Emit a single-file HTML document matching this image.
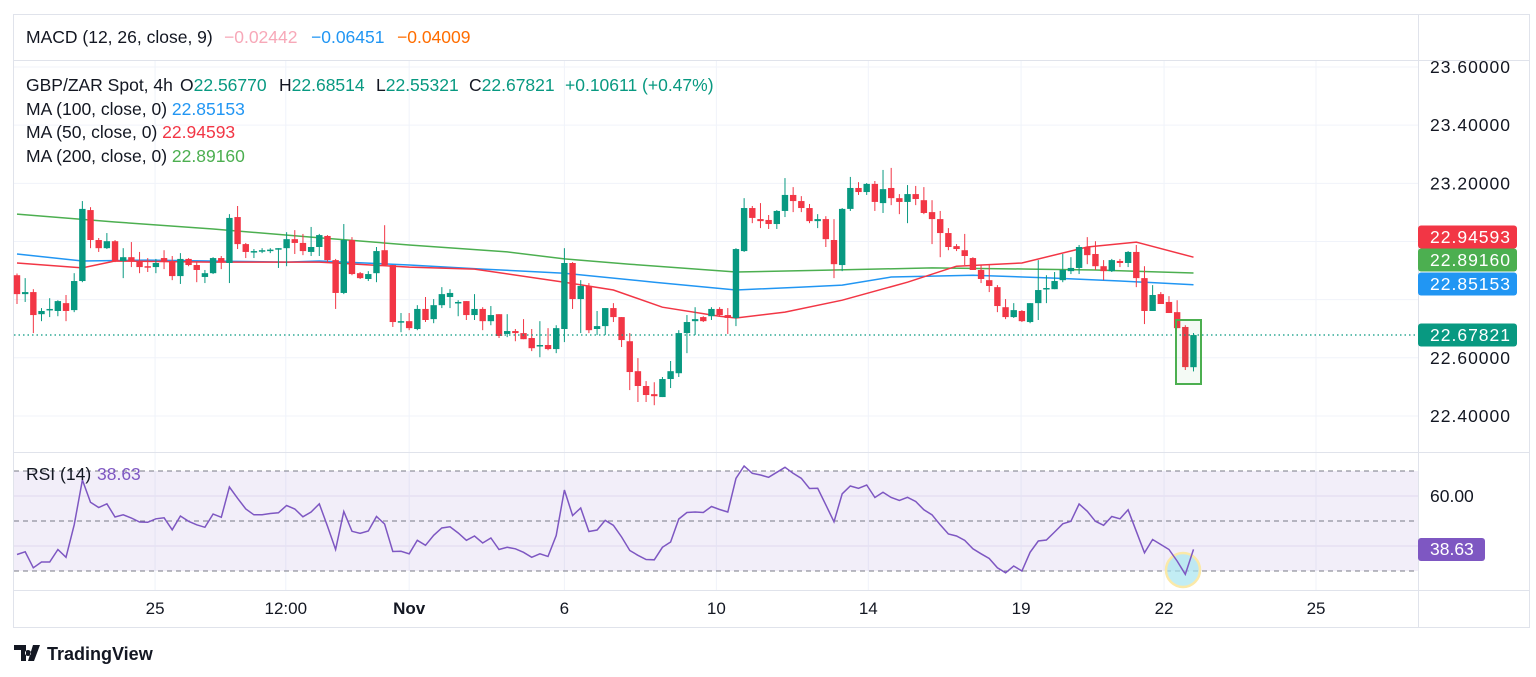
<!DOCTYPE html>
<html><head><meta charset="utf-8"><style>
html,body{margin:0;padding:0;background:#fff;width:1536px;height:677px;overflow:hidden;font-family:"Liberation Sans",sans-serif;}
svg{display:block}
text{font-family:"Liberation Sans",sans-serif;}
</style></head><body>
<svg id="chart" width="1536" height="677" viewBox="0 0 1536 677" xmlns="http://www.w3.org/2000/svg">
  <g id="grid"></g>
  <g id="frame" stroke="#e0e3eb" stroke-width="1" fill="none">
    <rect x="13.5" y="14.5" width="1516" height="613"/>
    <line x1="13" y1="60.5" x2="1530" y2="60.5"/>
    <line x1="13" y1="452.5" x2="1530" y2="452.5"/>
    <line x1="13" y1="590.5" x2="1530" y2="590.5"/>
    <line x1="1418.5" y1="14" x2="1418.5" y2="627"/>
  </g>
  <rect x="14" y="471" width="1404" height="100" fill="#7e57c2" fill-opacity="0.1"/>
  <g id="rsiLines"></g>
  <g id="mas"></g>
  <g id="candles"></g>
  <line x1="14" y1="335" x2="1418" y2="335" stroke="#089981" stroke-width="1.3" stroke-dasharray="1.5 3"/>
  <rect x="1176" y="320" width="25" height="64" fill="#4caf50" fill-opacity="0.06" stroke="#4caf50" stroke-width="2"/>
  <circle cx="1183" cy="570" r="17" fill="#a8e6f0" fill-opacity="0.7" stroke="#fbe9a8" stroke-width="2.5"/>
  <g id="rsi"></g>
  <g id="axis"></g>
  <g id="taxis"></g>

  <g font-size="17.5">
    <text x="26" y="43" fill="#131722">MACD (12, 26, close, 9)</text>
    <text x="224" y="43" fill="#f7a8b8">−0.02442</text>
    <text x="311" y="43" fill="#2196f3">−0.06451</text>
    <text x="397" y="43" fill="#ff6d00">−0.04009</text>
  </g>
  <g font-size="17.5">
    <text x="26" y="91" fill="#131722">GBP/ZAR Spot, 4h</text>
    <text x="180" y="91" fill="#131722">O<tspan fill="#089981">22.56770</tspan></text>
    <text x="279" y="91" fill="#131722">H<tspan fill="#089981">22.68514</tspan></text>
    <text x="376" y="91" fill="#131722">L<tspan fill="#089981">22.55321</tspan></text>
    <text x="469" y="91" fill="#131722">C<tspan fill="#089981">22.67821</tspan></text>
    <text x="565" y="91" fill="#089981">+0.10611 (+0.47%)</text>
    <text x="26" y="115" fill="#131722">MA (100, close, 0) <tspan fill="#2196f3">22.85153</tspan></text>
    <text x="26" y="138" fill="#131722">MA (50, close, 0) <tspan fill="#f23645">22.94593</tspan></text>
    <text x="26" y="162" fill="#131722">MA (200, close, 0) <tspan fill="#4caf50">22.89160</tspan></text>
  </g>
  <g font-size="17.5">
    <text x="26" y="480" fill="#131722">RSI (14)</text>
    <text x="97" y="480" fill="#7e57c2">38.63</text>
  </g>
  <g>
    <path d="M14 645h12v16h-5v-11h-7z M28 650a3 3 0 1 0 0.01 0z M33 645h7l-6 16h-6z" fill="#131722"/>
    <text x="47" y="660" font-size="18" font-weight="bold" fill="#131722">TradingView</text>
  </g>
</svg>
<script>
const opens=[22.884,22.819,22.826,22.750,22.764,22.761,22.788,22.764,22.864,23.108,23.005,22.977,23.001,22.933,22.946,22.933,22.915,22.912,22.943,22.933,22.881,22.940,22.919,22.878,22.891,22.943,22.926,23.084,22.991,22.964,22.967,22.970,22.974,22.977,23.008,22.995,22.964,22.981,23.019,22.936,22.823,23.005,22.891,22.871,22.891,22.970,22.919,22.723,22.726,22.699,22.768,22.733,22.781,22.809,22.788,22.795,22.747,22.768,22.726,22.750,22.682,22.692,22.685,22.668,22.640,22.644,22.630,22.699,22.926,22.802,22.847,22.699,22.709,22.771,22.740,22.657,22.554,22.503,22.475,22.465,22.527,22.547,22.685,22.726,22.740,22.743,22.768,22.747,22.737,22.967,23.115,23.077,23.074,23.060,23.105,23.160,23.139,23.115,23.070,23.077,23.005,22.919,23.112,23.184,23.170,23.198,23.132,23.184,23.149,23.136,23.163,23.142,23.101,23.077,23.029,22.984,22.970,22.943,22.902,22.867,22.843,22.774,22.740,22.761,22.723,22.788,22.836,22.836,22.867,22.898,22.909,22.981,22.957,22.915,22.898,22.933,22.926,22.964,22.874,22.761,22.819,22.792,22.757,22.706,22.5677];
const highs=[22.89,22.874,22.836,22.771,22.805,22.798,22.816,22.891,23.139,23.118,23.012,23.029,23.005,22.977,22.998,22.964,22.943,22.940,22.970,22.950,22.960,22.943,22.929,22.902,22.946,22.950,23.094,23.122,22.995,22.974,22.977,22.977,22.977,23.032,23.039,23.026,23.050,23.026,23.022,22.940,23.060,23.015,22.895,22.898,22.981,23.056,22.919,22.754,22.754,22.781,22.809,22.802,22.843,22.836,22.798,22.795,22.819,22.774,22.778,22.750,22.750,22.699,22.733,22.699,22.726,22.702,22.712,22.977,22.929,22.867,22.857,22.761,22.771,22.788,22.740,22.685,22.599,22.520,22.516,22.534,22.589,22.695,22.747,22.774,22.743,22.774,22.774,22.771,22.977,23.149,23.122,23.132,23.091,23.108,23.218,23.187,23.156,23.129,23.094,23.087,23.077,23.115,23.222,23.204,23.201,23.208,23.246,23.253,23.163,23.194,23.191,23.187,23.142,23.105,23.046,22.991,23.026,22.946,22.919,22.919,22.850,22.802,22.788,22.764,22.788,22.936,22.884,22.895,22.957,22.946,22.988,23.015,23.001,22.936,22.940,22.940,22.967,22.988,22.915,22.850,22.826,22.812,22.798,22.712,22.68514];
const lows=[22.785,22.792,22.685,22.726,22.740,22.743,22.726,22.757,22.860,22.977,22.964,22.974,22.929,22.874,22.912,22.891,22.895,22.891,22.905,22.867,22.854,22.915,22.860,22.857,22.888,22.905,22.857,22.974,22.943,22.943,22.960,22.960,22.909,22.915,22.957,22.953,22.950,22.950,22.929,22.768,22.819,22.884,22.871,22.864,22.860,22.919,22.706,22.688,22.695,22.695,22.723,22.719,22.771,22.771,22.743,22.730,22.730,22.695,22.712,22.668,22.671,22.657,22.664,22.623,22.602,22.626,22.616,22.654,22.768,22.685,22.685,22.678,22.678,22.723,22.637,22.489,22.448,22.448,22.437,22.465,22.496,22.534,22.616,22.678,22.723,22.730,22.743,22.682,22.709,22.964,23.063,23.046,23.043,23.043,23.084,23.101,23.101,23.063,23.046,22.981,22.874,22.898,23.105,23.160,23.160,23.105,23.098,23.125,23.094,23.063,23.125,23.094,22.991,22.946,22.970,22.967,22.919,22.902,22.857,22.826,22.757,22.733,22.737,22.723,22.719,22.730,22.788,22.836,22.860,22.888,22.888,22.922,22.902,22.867,22.895,22.912,22.912,22.843,22.716,22.761,22.785,22.754,22.702,22.558,22.55321];
const closes=[22.819,22.826,22.747,22.761,22.768,22.795,22.761,22.864,23.112,23.005,22.977,23.001,22.933,22.946,22.933,22.912,22.912,22.926,22.933,22.881,22.940,22.919,22.902,22.891,22.943,22.929,23.081,22.991,22.964,22.967,22.970,22.972,22.977,23.008,22.995,22.967,22.981,23.022,22.936,22.823,23.005,22.888,22.874,22.888,22.967,22.919,22.723,22.726,22.702,22.768,22.730,22.781,22.819,22.823,22.792,22.747,22.768,22.726,22.747,22.675,22.692,22.685,22.664,22.633,22.644,22.630,22.702,22.926,22.802,22.847,22.695,22.709,22.771,22.740,22.661,22.551,22.503,22.472,22.468,22.527,22.554,22.685,22.723,22.733,22.726,22.768,22.747,22.737,22.974,23.115,23.081,23.070,23.060,23.105,23.160,23.139,23.115,23.070,23.077,23.008,22.922,23.112,23.184,23.170,23.198,23.136,23.180,23.149,23.136,23.163,23.146,23.098,23.077,23.029,22.981,22.974,22.950,22.902,22.871,22.847,22.778,22.740,22.764,22.726,22.788,22.833,22.840,22.864,22.902,22.909,22.981,22.953,22.915,22.898,22.936,22.926,22.964,22.874,22.761,22.816,22.785,22.754,22.702,22.568,22.67821];
const ma100Idx=[0,8,16,33,37,48,57,67,78,88,96,101,107,117,127,135,144];
const ma100Val=[22.957,22.933,22.936,22.929,22.933,22.919,22.905,22.891,22.860,22.833,22.843,22.850,22.878,22.884,22.874,22.864,22.85153];
const ma50Idx=[0,8,12,24,37,48,56,67,73,79,86,88,94,101,109,115,123,131,137,144];
const ma50Val=[22.926,22.909,22.933,22.929,22.929,22.912,22.905,22.860,22.833,22.774,22.743,22.737,22.757,22.798,22.860,22.915,22.926,22.981,22.998,22.94593];
const ma200Idx=[0,12,24,36,48,60,67,75,88,100,112,124,132,144];
const ma200Val=[23.094,23.067,23.043,23.015,22.988,22.964,22.940,22.922,22.895,22.902,22.909,22.905,22.902,22.8916];
const rsiVals=[36.6,37.7,31.3,33.6,33.6,38.6,35.5,48.5,66.4,57.5,55.4,56.9,51.6,52.5,51.2,49.6,49.5,50.9,51.3,46.5,52.0,49.9,48.5,47.5,52.8,51.5,63.6,59.1,54.8,52.5,52.5,53.0,53.3,56.2,54.8,51.7,53.6,56.9,47.9,38.6,53.8,45.9,45.1,46.0,51.8,48.8,37.8,37.9,36.9,42.3,40.3,44.3,47.2,47.7,45.2,42.3,44.0,41.2,43.2,38.6,39.5,38.9,37.5,35.5,36.9,35.8,44.2,62.4,52.2,55.2,45.8,46.4,50.3,48.3,43.6,38.2,36.3,34.6,34.5,39.5,41.6,50.8,53.4,53.6,53.4,55.8,54.6,53.6,67.1,72.0,69.1,68.4,67.5,69.5,71.5,69.1,67.1,63.0,63.1,56.5,49.7,60.9,64.0,63.1,64.4,59.4,61.5,59.4,58.2,59.5,57.8,54.5,52.5,48.5,44.8,44.0,42.3,38.9,36.9,35.0,31.3,29.3,32.0,30.0,37.5,42.0,42.4,45.6,48.9,49.9,56.8,53.9,49.9,48.3,51.8,50.9,54.5,45.9,37.3,42.6,40.6,38.6,34.0,28.7,38.63];
const priceTicks=[23.6,23.4,23.2,22.6,22.4];
const gridPrices=[23.6,23.4,23.2,23.0,22.8,22.6,22.4];
const timeLabels=["25","12:00","Nov","6","10","14","19","22","25"];
const timePos=[16.9,32.9,48,67,85.6,104.2,122.9,140.4,159];
const rsiLevels=[70,50,30];

const NS="http://www.w3.org/2000/svg";
const X0=17, DX=8.17;
const xOf=i=>X0+i*DX;
const yOf=p=>67+(23.6-p)*290.8;
const yR=v=>571-(v-30)*2.5;
function mk(tag,attrs,parent){const e=document.createElementNS(NS,tag);for(const k in attrs)e.setAttribute(k,attrs[k]);parent.appendChild(e);return e;}

const grid=document.getElementById('grid');
gridPrices.forEach(p=>{const l=mk('line',{x1:14,x2:1418,y1:yOf(p),y2:yOf(p),stroke:'#f0f3fa','stroke-width':1},grid);

});
[496,546].forEach(y=>{const l=mk('line',{x1:14,x2:1418,y1:y,y2:y,stroke:'#ebe7f5','stroke-width':1},grid);

});
timePos.forEach(t=>{const x=xOf(t);const l=mk('line',{x1:x,x2:x,y1:61,y2:590,stroke:'#f0f3fa','stroke-width':1},grid);

});

const rl=document.getElementById('rsiLines');
rsiLevels.forEach(v=>{const l=mk('line',{x1:14,x2:1418,y1:yR(v),y2:yR(v),stroke:'#787b86','stroke-width':1,'stroke-dasharray':'5 4'},rl);

});

const mas=document.getElementById('mas');
function maLine(idx,vals,color,name){const pts=idx.map((i,k)=>xOf(i).toFixed(1)+','+yOf(vals[k]).toFixed(1)).join(' ');
const pl=mk('polyline',{points:pts,fill:'none',stroke:color,'stroke-width':1.5},mas);

}
maLine(ma200Idx,ma200Val,'#4caf50','ma-200-line');
maLine(ma100Idx,ma100Val,'#2196f3','ma-100-line');
maLine(ma50Idx,ma50Val,'#f23645','ma-50-line');

const cg=document.getElementById('candles');
opens.forEach((o,i)=>{const c=closes[i],up=c>=o,col=up?'#089981':'#f23645',x=xOf(i);
const w=mk('line',{x1:x,x2:x,y1:yOf(highs[i]),y2:yOf(lows[i]),stroke:col,'stroke-width':1},cg);


const top=yOf(Math.max(o,c)),bot=yOf(Math.min(o,c));
const b=mk('rect',{x:x-3.2,y:top,width:6.4,height:Math.max(1.5,bot-top),fill:col},cg);

});

const rs=document.getElementById('rsi');
const rp=mk('polyline',{points:rsiVals.map((v,i)=>xOf(i).toFixed(1)+','+yR(v).toFixed(1)).join(' '),fill:'none',stroke:'#7e57c2','stroke-width':1.5},rs);



const ax=document.getElementById('axis');
priceTicks.forEach(p=>{const t=mk('text',{x:1430,y:yOf(p)+6,'font-size':17.5,fill:'#131722',textLength:80},ax);t.textContent=p.toFixed(5);

});
const tags=[[ma50Val[ma50Val.length-1],'#f23645'],[ma200Val[ma200Val.length-1],'#4caf50'],[ma100Val[ma100Val.length-1],'#2196f3'],[closes[closes.length-1],'#089981']];
const tagY=[237,260,284,335];
tags.forEach((tg,k)=>{const y=tagY[k];
const r=mk('rect',{x:1418,y:y-11.5,width:99,height:23,rx:3,fill:tg[1]},ax);


const t=mk('text',{x:1430,y:y+6,'font-size':17.5,fill:'#fff',textLength:80},ax);t.textContent=tg[0].toFixed(5);

});
const t60=mk('text',{x:1430,y:502,'font-size':17.5,fill:'#131722'},ax);t60.textContent='60.00';


const rr=mk('rect',{x:1418,y:538,width:67,height:23,rx:3,fill:'#7e57c2'},ax);


const rt=mk('text',{x:1430,y:555,'font-size':17.5,fill:'#fff'},ax);rt.textContent=rsiVals[rsiVals.length-1].toFixed(2);



const ta=document.getElementById('taxis');
timeLabels.forEach((s,k)=>{const t=mk('text',{x:xOf(timePos[k]),y:614,'font-size':17,'text-anchor':'middle',fill:'#131722','font-weight':s==='Nov'?'bold':'normal'},ta);t.textContent=s;

});
</script>
</body></html>
